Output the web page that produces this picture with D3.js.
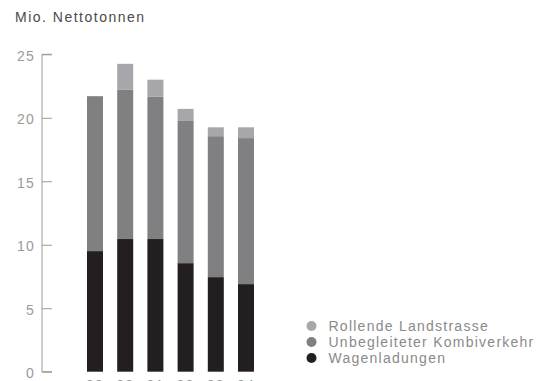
<!DOCTYPE html>
<html>
<head>
<meta charset="utf-8">
<script src="https://cdn.jsdelivr.net/npm/d3@7"></script>
<style>
  html, body { margin: 0; padding: 0; background: #fff; }
  svg { display: block; font-family: "Liberation Sans", Arial, sans-serif; }
</style>
</head>
<body>
<svg id="chart" width="545" height="381"></svg>
<script>
// Rail freight volume, million net tonnes, by year
const years = ["99", "00", "01", "02", "03", "04"];
const wagenladungen = [9.5, 10.45, 10.45, 8.55, 7.45, 6.9];
const kombiverkehr = [12.2, 11.75, 11.2, 11.2, 11.1, 11.5];
const rollendeLandstrasse = [0, 2.05, 1.35, 0.95, 0.7, 0.85];
const yTicks = [0, 5, 10, 15, 20, 25];

const seriesNames = ["Wagenladungen", "Unbegleiteter Kombiverkehr", "Rollende Landstrasse"];
const seriesColors = ["#231f20", "#808083", "#a7a6aa"];

const rows = years.map((y, i) => ({
  year: y,
  Wagenladungen: wagenladungen[i],
  "Unbegleiteter Kombiverkehr": kombiverkehr[i],
  "Rollende Landstrasse": rollendeLandstrasse[i]
}));

const svg = d3.select("#chart");

const x = d3.scaleBand().domain(years).range([72.8, 268.2]).padding(0.47);
const y = d3.scaleLinear().domain([0, 25]).range([371.7, 54.3]);
const color = d3.scaleOrdinal().domain(seriesNames).range(seriesColors);

const stacked = d3.stack().keys(seriesNames)(rows);

// Title
svg.append("text")
  .attr("x", 15).attr("y", 22)
  .attr("font-size", 14)
  .attr("letter-spacing", 1.5)
  .attr("fill", "#4a4a4a")
  .text("Mio. Nettotonnen");

// Y axis with ticks pointing inward
const yAxis = d3.axisRight(y).tickValues(yTicks).tickSize(10).tickFormat("");
const gy = svg.append("g").attr("transform", "translate(42,0)").call(yAxis);
gy.select(".domain").attr("stroke", "#9a9a9a").attr("d", `M10,${y(25)}H0V${y(0)}H10`);
gy.selectAll(".tick line").attr("stroke", "#9a9a9a");

svg.append("g").selectAll("text")
  .data(yTicks)
  .join("text")
  .attr("x", 35).attr("y", d => y(d) + 2)
  .attr("dy", "0.32em")
  .attr("text-anchor", "end")
  .attr("font-size", 14)
  .attr("letter-spacing", 1.2)
  .attr("fill", "#9a9a9a")
  .text(d => d);

// Stacked bars
svg.append("g").selectAll("g")
  .data(stacked)
  .join("g")
  .attr("fill", d => color(d.key))
  .selectAll("rect")
  .data(d => d)
  .join("rect")
  .attr("x", d => x(d.data.year))
  .attr("width", x.bandwidth())
  .attr("y", d => y(d[1]))
  .attr("height", d => y(d[0]) - y(d[1]));

// Year labels below the bars
svg.append("g").selectAll("text")
  .data(years)
  .join("text")
  .attr("x", d => x(d) + x.bandwidth() / 2)
  .attr("y", 390)
  .attr("text-anchor", "middle")
  .attr("font-size", 14)
  .attr("letter-spacing", 1.2)
  .attr("fill", "#9a9a9a")
  .text(d => d);

// Legend
const legendOrder = ["Rollende Landstrasse", "Unbegleiteter Kombiverkehr", "Wagenladungen"];
const legend = svg.append("g").selectAll("g")
  .data(legendOrder)
  .join("g")
  .attr("transform", (d, i) => `translate(311.5,${326 + i * 16})`);
legend.append("circle").attr("r", 5).attr("fill", d => color(d));
legend.append("text")
  .attr("x", 17).attr("dy", "0.35em")
  .attr("font-size", 14)
  .attr("letter-spacing", 1.25)
  .attr("fill", "#8a8a8a")
  .text(d => d);
</script>
</body>
</html>
